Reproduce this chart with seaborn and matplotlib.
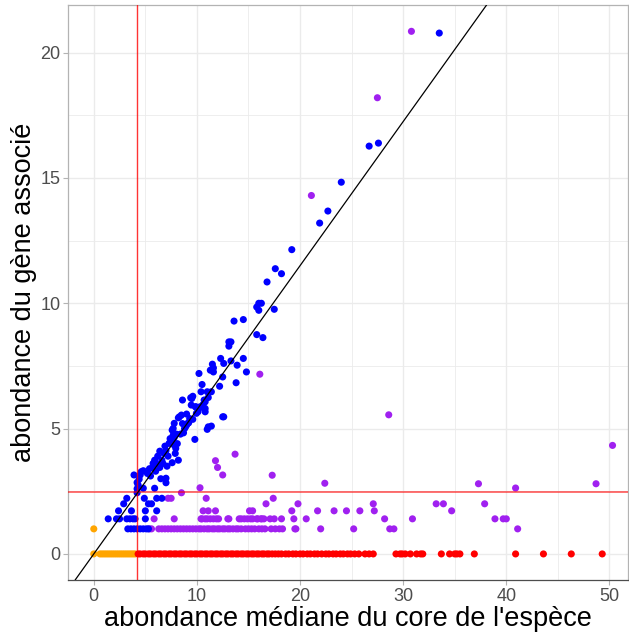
import numpy as np
import pandas as pd
import matplotlib
matplotlib.use("Agg")
import matplotlib.pyplot as plt
import seaborn as sns

# ---------------- data ----------------
orange_x = [0.0, 0.0, 0.6, 0.8, 1.0, 1.2, 1.4, 1.6, 1.8, 2.0, 2.2, 2.4, 2.6, 2.8, 3.0, 3.2, 3.4, 3.6, 3.8, 4.0]
orange_y = [0.0, 1.0, 0, 0, 0, 0, 0, 0, 0, 0, 0, 0, 0, 0, 0, 0, 0, 0, 0, 0]

red_x = [4.3, 4.5, 4.8, 5.0, 5.3, 5.5, 5.8, 6.0, 6.3, 6.5, 6.8, 7.0, 7.3, 7.5, 7.8, 8.0,
         8.3, 8.5, 8.8, 9.0, 9.3, 9.5, 9.8, 10.0, 10.3, 10.5, 10.8, 11.0, 11.3, 11.5,
         11.8, 12.0, 12.3, 12.5, 12.8, 13.0, 13.3, 13.5, 13.8, 14.0, 14.3, 14.5, 14.8,
         15.0, 15.3, 15.5, 15.8, 16.0, 16.3, 16.5, 16.8, 17.0, 17.3, 17.6, 17.9, 18.2,
         18.6, 18.9, 19.3, 19.6, 20.0, 20.3, 20.7, 21.0, 21.4, 21.7, 22.1, 22.5, 22.8,
         23.2, 23.5, 23.9, 24.2, 24.6, 24.9, 25.3, 25.7, 26.3, 26.7, 27.1, 29.3, 29.7,
         29.9, 30.2, 30.7, 31.3, 31.7, 31.9, 33.7, 34.5, 35.0, 35.2, 35.5, 36.9, 40.9,
         43.6, 46.3, 49.3]

purple_x = [5.4, 5.6, 6.3, 6.6, 6.9, 7.2, 7.5, 7.8, 8.1, 8.4, 8.7, 9.0, 9.3, 9.6, 9.9,
            10.2, 10.4, 10.7, 11.0, 11.2, 11.5, 11.7, 12.0, 12.2, 12.5, 12.7, 13.0, 13.2,
            13.5, 13.8, 14.0, 14.3, 14.7, 15.0, 15.3, 15.6, 16.0, 16.3, 16.6, 17.2, 17.6,
            18.0, 18.3, 19.5, 19.6, 22.0, 25.2, 28.7, 29.1, 41.1,
            5.85, 7.8, 10.4, 10.5, 10.8, 11.0, 11.3, 11.6, 11.9, 12.1, 13.0, 13.1, 14.1,
            14.3, 14.6, 14.9, 15.2, 15.4, 15.8, 15.9, 16.2, 16.3, 16.5, 17.1, 17.5, 18.2,
            19.4, 20.6, 28.2, 30.9, 38.9, 39.7, 40.0,
            10.6, 11.1, 11.8, 15.1, 15.4, 19.2, 21.7, 23.3, 24.5, 25.8, 27.2, 34.7,
            16.7, 19.8, 27.1, 33.2, 33.9, 37.9,
            7.2, 7.5, 10.9, 17.4,
            8.5, 10.3, 22.4, 37.3, 40.9, 48.7, 12.5, 17.3, 12.0, 11.8, 13.7, 50.3, 28.6,
            16.1, 21.1, 27.5, 30.8]
purple_y = [1.0] * 50 + [1.4] * 33 + [1.72] * 12 + [2.0] * 6 + [2.22] * 4 + \
           [2.44, 2.64, 2.82, 2.80, 2.63, 2.80, 3.15, 3.14, 3.45, 3.72, 3.98, 4.33, 5.55,
            7.17, 14.3, 18.2, 20.85]

blue_x = [3.3, 3.6, 3.9, 4.2, 4.5, 4.8, 5.1, 5.3,
          1.4, 2.2, 2.5, 3.2, 3.5, 3.8, 4.0, 5.0,
          2.4, 3.65, 5.0, 6.1,
          2.9, 5.3, 5.6,
          3.2, 4.9, 6.1, 6.6,
          4.2, 4.3, 4.8, 5.9, 4.2, 4.2,
          4.4, 3.9, 4.5, 5.5, 5.2, 4.8, 4.6, 7.0, 7.0,
          5.7, 6.4, 5.75, 6.1, 6.7, 7.6, 5.9, 6.6, 8.2, 7.2, 6.8, 7.9, 6.4, 7.0, 7.95,
          7.8, 7.3, 7.7, 9.8, 7.8, 7.7, 8.0, 8.4, 8.7, 7.6, 11.0, 7.7, 8.8, 8.9, 11.1,
          11.4, 9.0, 7.8, 9.1, 9.2, 9.6, 9.3, 8.2, 8.3, 12.5, 12.6, 8.5, 9.0, 9.95, 10.1,
          10.8, 10.2, 10.8, 9.85, 10.3, 9.9, 9.45, 10.6, 10.8, 8.6, 10.7, 9.5, 9.4, 11.1,
          9.6, 10.4, 11.0, 11.4, 12.2, 10.5, 13.8, 12.5, 10.2, 11.6, 14.8, 11.3, 11.6,
          11.5, 13.9, 12.6, 13.3, 12.3, 14.5, 13.1, 13.1, 13.3, 16.4, 15.8, 13.6, 14.5,
          16.0, 17.5, 15.8, 16.0, 16.25, 16.8, 18.2, 17.6, 19.2, 21.9, 22.7, 24.0, 26.7,
          27.6, 33.5,
          5.4, 6.0, 6.2, 6.9, 7.4, 8.1, 8.6, 6.5, 7.1]
blue_y = [1.0] * 8 + [1.4] * 8 + [1.72] * 4 + [2.0] * 3 + [2.22] * 4 + \
         [2.44, 2.75, 2.62, 2.62, 2.6, 2.85,
          2.98, 3.15, 3.15, 3.11, 3.21, 3.32, 3.28, 3.02, 2.84,
          3.45, 3.45, 3.61, 3.59, 3.61, 3.64, 3.74, 3.74, 3.74, 3.90, 4.01, 4.01, 4.10,
          4.12, 4.21, 4.34, 4.41, 4.51, 4.57, 4.65, 4.74, 4.78, 4.78, 4.83, 4.94, 4.97,
          5.01, 5.0, 5.07, 5.07, 5.10, 5.14, 5.21, 5.21, 5.23, 5.37, 5.40, 5.43, 5.47,
          5.47, 5.47, 5.54, 5.58, 5.61, 5.67, 5.67, 5.80, 5.80, 5.87, 5.87, 5.87, 5.94,
          5.96, 6.07, 6.14, 6.14, 6.20, 6.23, 6.24, 6.29, 6.47, 6.47, 6.47, 6.69, 6.76,
          6.83, 7.06, 7.2, 7.26, 7.26, 7.33, 7.42, 7.57, 7.53, 7.6, 7.7, 7.8, 7.8, 8.29,
          8.46, 8.46, 8.63, 8.75, 9.29, 9.35, 9.72, 9.76, 9.85, 10.0, 10.0, 10.85, 11.18,
          11.38, 12.14, 13.2, 13.68, 14.83, 16.27, 16.39, 20.78,
          3.4, 3.3, 3.9, 4.3, 4.6, 4.4, 5.2, 3.0, 3.5]

groups = ["orange", "red", "purple", "blue"]
palette = {"orange": "#FFA500", "red": "#FF0000", "purple": "#A020F0", "blue": "#0000FF"}

vline_x = 4.2
hline_y = 2.46
slope = 0.575
intercept = 0.0

xticks = [0, 10, 20, 30, 40, 50]
yticks = [0, 5, 10, 15, 20]
xlabel = "abondance médiane du core de l'espèce"
ylabel = "abondance du gène associé"

df = pd.concat([
    pd.DataFrame({"x": orange_x, "y": orange_y, "g": "orange"}),
    pd.DataFrame({"x": red_x, "y": [0.0] * len(red_x), "g": "red"}),
    pd.DataFrame({"x": purple_x, "y": purple_y, "g": "purple"}),
    pd.DataFrame({"x": blue_x, "y": blue_y, "g": "blue"}),
], ignore_index=True)

# ---------------- plot ----------------
sns.set_theme(style="white")
plt.rcParams["font.family"] = ["Liberation Sans", "DejaVu Sans"]

fig = plt.figure(figsize=(6.29, 6.37), dpi=100)
ax = fig.add_axes([68 / 629, 57 / 637, 560 / 629, 575 / 637])

xlim = (-2.5, 51.8)
ylim = (-1.04, 21.9)

# grid
for v in np.arange(-5, 55, 5):
    ax.axvline(v, color="#EBEBEB", lw=1.0 if v % 10 == 0 else 0.6, zorder=0)
for v in np.arange(-2.5, 25, 2.5):
    ax.axhline(v, color="#EBEBEB", lw=1.0 if v % 5 == 0 else 0.6, zorder=0)

sns.scatterplot(data=df, x="x", y="y", hue="g", palette=palette, hue_order=groups,
                s=26, linewidth=0, legend=False, ax=ax, zorder=3)

ax.axvline(vline_x, color="#FF0000", lw=1.0, alpha=0.8, zorder=4)
ax.axhline(hline_y, color="#FF0000", lw=1.3, alpha=0.6, zorder=4)
ax.axline((0, intercept), slope=slope, color="black", lw=0.9, zorder=5)

ax.set_xlim(*xlim)
ax.set_ylim(*ylim)
ax.set_xticks(xticks)
ax.set_yticks(yticks)
ax.set_xticklabels([str(t) for t in xticks])
ax.set_yticklabels([str(t) for t in yticks])
ax.tick_params(axis="both", which="both", length=3.5, width=0.8, color="#B3B3B3",
               labelcolor="#4D4D4D", labelsize=13, pad=2, bottom=True, left=True)

for side in ["top", "right", "left"]:
    ax.spines[side].set_color("#B3B3B3")
    ax.spines[side].set_linewidth(0.9)
ax.spines["bottom"].set_color("#4D4D4D")
ax.spines["bottom"].set_linewidth(0.9)

ax.set_xlabel(xlabel, fontsize=19.5, color="black", labelpad=1)
ax.set_ylabel(ylabel, fontsize=19.5, color="black", labelpad=2)

fig.savefig("out.png", dpi=100)
